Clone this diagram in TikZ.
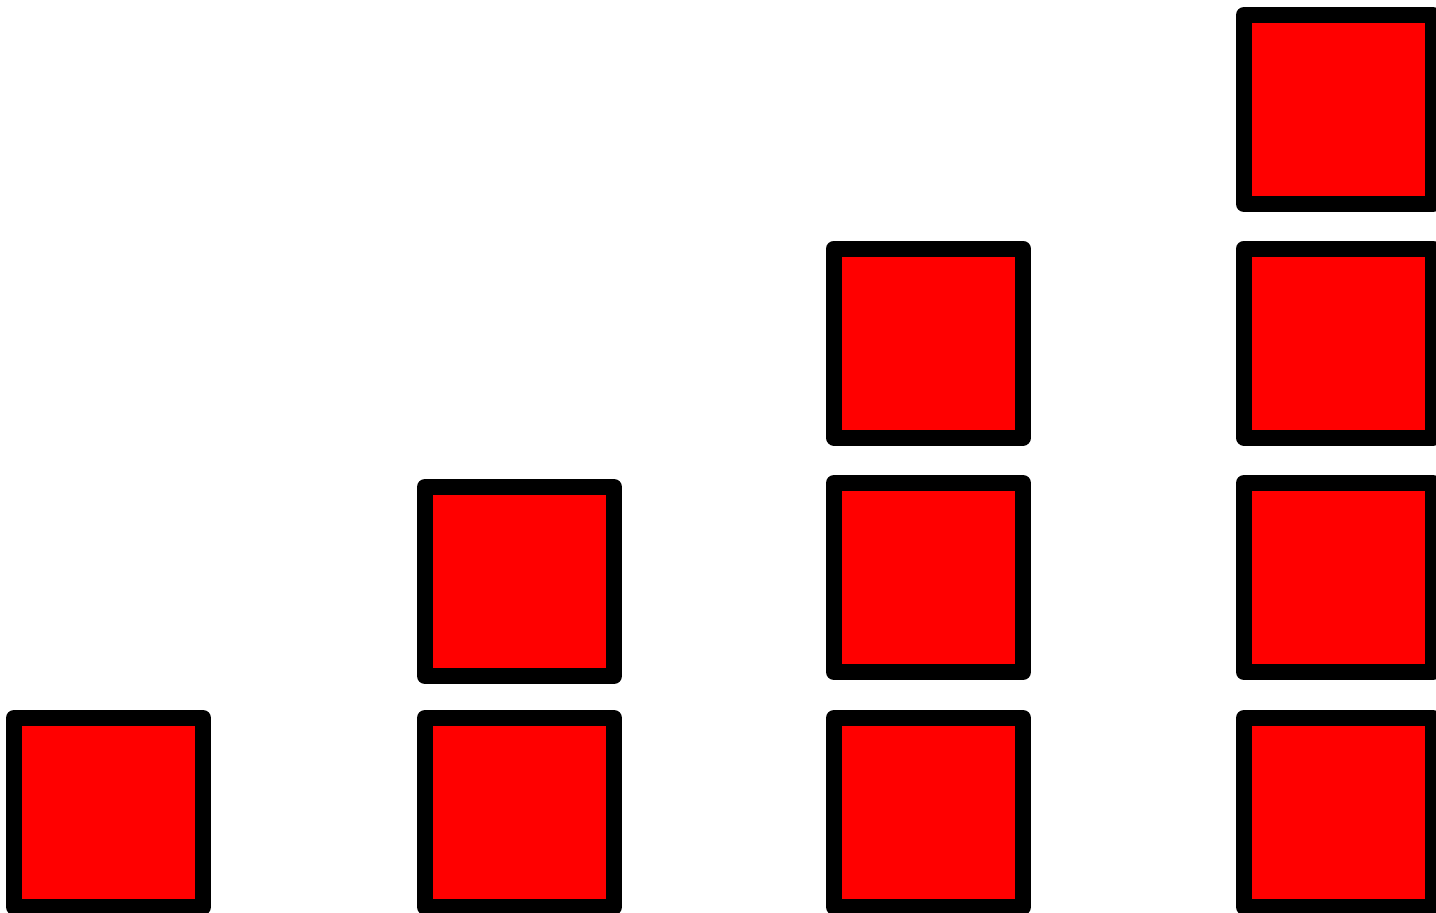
\documentclass[tikz,border=0pt]{standalone}
\begin{document}
\begin{tikzpicture}[x=1pt,y=-1pt,
  block/.style={draw=black,fill=red,line width=16pt,line join=round,rectangle,
    minimum width=189pt,minimum height=189pt,inner sep=0pt,outer sep=0pt}]
\useasboundingbox (0,0) rectangle (1436,913);
% column 1
\node[block] (a1) at (108.5,812.5) {};
% column 2
\node[block] (b1) at (519.5,812.5) {};
\node[block] (b2) at (519.5,581.5) {};
% column 3
\node[block] (c1) at (928.5,812.5) {};
\node[block] (c2) at (928.5,577.5) {};
\node[block] (c3) at (928.5,343) {};
% column 4
\node[block] (d1) at (1338.5,812.5) {};
\node[block] (d2) at (1338.5,577.5) {};
\node[block] (d3) at (1338.5,343) {};
\node[block] (d4) at (1338.5,109.5) {};
\end{tikzpicture}
\end{document}
